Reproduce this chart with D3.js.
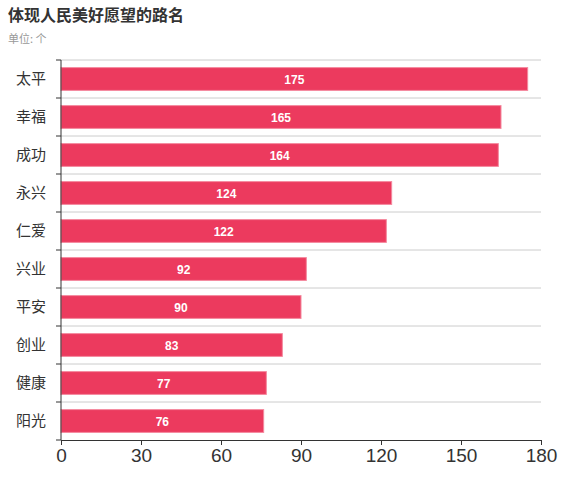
<!DOCTYPE html>
<html>
<head>
<meta charset="utf-8">
<script src="https://cdn.jsdelivr.net/npm/d3@7"></script>
<style>
  body { margin: 0; background: #fff; }
  svg text { font-family: "Noto Sans CJK SC", "DejaVu Sans", sans-serif; }
</style>
</head>
<body>
<div id="chart"></div>
<script>
var names = ["太平", "幸福", "成功", "永兴", "仁爱", "兴业", "平安", "创业", "健康", "阳光"];
var counts = [175, 165, 164, 124, 122, 92, 90, 83, 77, 76];
var xTicks = [0, 30, 60, 90, 120, 150, 180];

var width = 579, height = 485;
var margin = {top: 60, right: 38, bottom: 45, left: 61};

var svg = d3.select("#chart").append("svg")
    .attr("width", width)
    .attr("height", height);

svg.append("text")
    .attr("x", 8).attr("y", 21)
    .attr("font-size", 16).attr("font-weight", "bold")
    .attr("fill", "#333")
    .text("体现人民美好愿望的路名");

svg.append("text")
    .attr("x", 8).attr("y", 43)
    .attr("font-size", 11)
    .attr("fill", "#999")
    .text("单位: 个");

var x = d3.scaleLinear().domain([0, 180]).range([margin.left, width - margin.right]);
var y = d3.scaleBand().domain(names).range([margin.top, height - margin.bottom])
    .paddingInner(0.4).paddingOuter(0.2);
var band = d3.scaleBand().domain(names).range([margin.top, height - margin.bottom]);

// grid lines at band edges
svg.append("g")
  .selectAll("line")
  .data(names)
  .enter().append("line")
    .attr("x1", x(0)).attr("x2", x(180))
    .attr("y1", function(d) { return band(d); })
    .attr("y2", function(d) { return band(d); })
    .attr("stroke", "#ccc").attr("stroke-width", 1);

svg.append("g")
  .selectAll("rect")
  .data(names)
  .enter().append("rect")
    .attr("x", x(0))
    .attr("y", function(d) { return y(d); })
    .attr("width", function(d, i) { return x(counts[i]) - x(0); })
    .attr("height", y.bandwidth())
    .attr("fill", "#ec3a5e")
    .attr("stroke", "#f4899e")
    .attr("stroke-width", 1);

svg.append("g")
  .selectAll("text")
  .data(names)
  .enter().append("text")
    .attr("x", function(d, i) { return (x(0) + x(counts[i])) / 2; })
    .attr("y", function(d) { return y(d) + y.bandwidth() / 2; })
    .attr("dy", "0.4em")
    .attr("text-anchor", "middle")
    .attr("font-size", 12).attr("font-weight", "bold")
    .attr("fill", "#fff")
    .style("font-family", "'Liberation Sans', Arial, sans-serif")
    .text(function(d, i) { return counts[i]; });

// left axis: ticks at band edges
var yAxisG = svg.append("g");
yAxisG.append("line")
    .attr("x1", x(0)).attr("x2", x(0))
    .attr("y1", margin.top).attr("y2", height - margin.bottom)
    .attr("stroke", "#333");
yAxisG.selectAll(".tk")
  .data(names.concat(["end"]))
  .enter().append("line")
    .attr("x1", x(0) - 5).attr("x2", x(0))
    .attr("y1", function(d, i) { return margin.top + i * band.bandwidth(); })
    .attr("y2", function(d, i) { return margin.top + i * band.bandwidth(); })
    .attr("stroke", "#333");
yAxisG.selectAll("text")
  .data(names)
  .enter().append("text")
    .attr("x", x(0) - 15)
    .attr("y", function(d) { return band(d) + band.bandwidth() / 2; })
    .attr("dy", "0.36em")
    .attr("text-anchor", "end")
    .attr("font-size", 15)
    .attr("fill", "#333")
    .text(function(d) { return d; });

var xAxis = d3.axisBottom(x).tickValues(xTicks).tickSizeOuter(0).tickSize(5).tickPadding(4);
var xg = svg.append("g")
    .attr("transform", "translate(0," + (height - margin.bottom) + ")")
    .call(xAxis);
xg.select(".domain").attr("stroke", "#333");
xg.selectAll(".tick line").attr("stroke", "#333");
xg.selectAll(".tick text")
    .attr("font-size", 19)
    .attr("fill", "#333")
    .style("font-family", "'Liberation Sans', Arial, sans-serif");
</script>
</body>
</html>
